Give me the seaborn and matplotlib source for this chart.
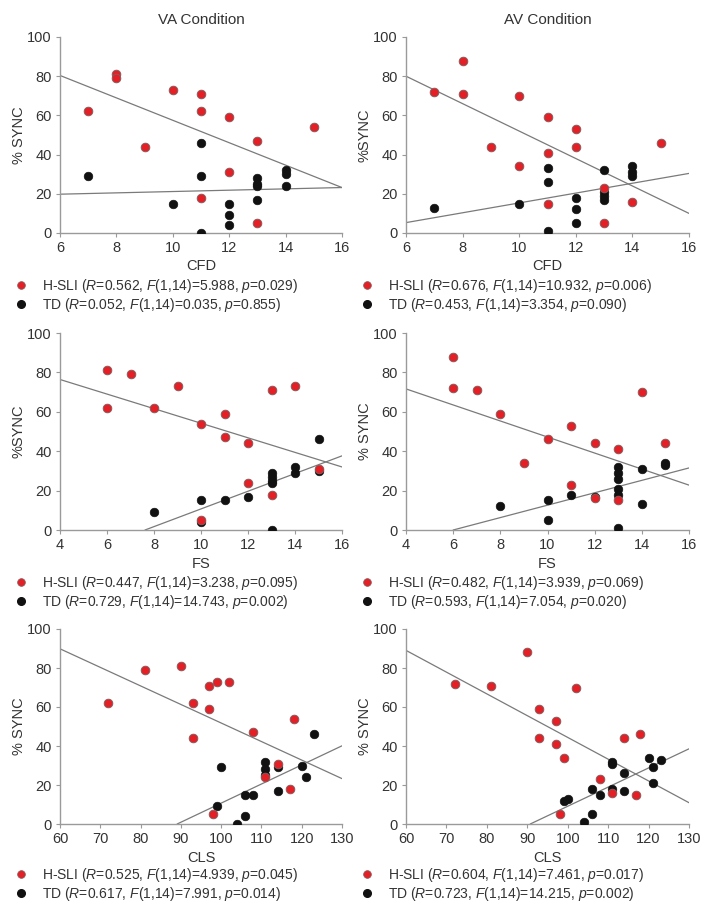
import matplotlib
matplotlib.use("Agg")
import matplotlib.pyplot as plt
import seaborn as sns
import pandas as pd
from matplotlib.lines import Line2D

sns.set_theme(style="white")
plt.rcParams['font.family'] = ['Liberation Sans', 'DejaVu Sans']
plt.rcParams['mathtext.fontset'] = 'custom'
plt.rcParams['mathtext.rm'] = 'Liberation Sans'
plt.rcParams['mathtext.it'] = 'Liberation Sans:italic'

# ---------------- data ----------------
# Panel 1: VA condition, CFD
va_cfd_sli_x = [7, 8, 8, 9, 10, 11, 11, 11, 12, 12, 13, 13, 15]
va_cfd_sli_y = [62, 81, 79, 44, 73, 71, 62, 18, 59, 31, 47, 5, 54]
va_cfd_td_x = [7, 10, 11, 11, 11, 12, 12, 12, 13, 13, 13, 13, 14, 14, 14]
va_cfd_td_y = [29, 15, 46, 29, 0, 15, 9, 4, 28, 25, 24, 17, 32, 30, 24]
# Panel 2: AV condition, CFD
av_cfd_sli_x = [7, 8, 8, 9, 10, 10, 11, 11, 11, 12, 12, 13, 13, 14, 15]
av_cfd_sli_y = [72, 88, 71, 44, 70, 34, 59, 41, 15, 53, 44, 23, 5, 16, 46]
av_cfd_td_x = [7, 10, 11, 11, 11, 12, 12, 12, 13, 13, 13, 13, 14, 14, 14]
av_cfd_td_y = [13, 15, 33, 26, 1, 18, 12, 5, 32, 21, 19, 17, 34, 31, 29]
# Panel 3: VA condition, FS
va_fs_sli_x = [6, 6, 7, 8, 9, 10, 10, 11, 11, 12, 12, 13, 13, 14, 15]
va_fs_sli_y = [81, 62, 79, 62, 73, 54, 5, 59, 47, 44, 24, 71, 18, 73, 31]
va_fs_td_x = [8, 10, 10, 11, 12, 13, 13, 13, 13, 13, 14, 14, 15, 15]
va_fs_td_y = [9, 15, 4, 15, 17, 29, 27, 25, 24, 0, 32, 29, 46, 30]
# Panel 4: AV condition, FS
av_fs_sli_x = [6, 6, 7, 8, 9, 10, 11, 11, 12, 12, 13, 13, 14, 15]
av_fs_sli_y = [88, 72, 71, 59, 34, 46, 53, 23, 44, 16, 41, 15, 70, 44]
av_fs_td_x = [8, 10, 10, 11, 12, 13, 13, 13, 13, 13, 13, 14, 14, 15, 15]
av_fs_td_y = [12, 15, 5, 18, 17, 32, 29, 26, 21, 18, 1, 31, 13, 34, 33]
# Panel 5: VA condition, CLS
va_cls_sli_x = [72, 81, 90, 93, 93, 97, 97, 99, 102, 98, 108, 111, 114, 117, 118]
va_cls_sli_y = [62, 79, 81, 62, 44, 71, 59, 73, 73, 5, 47, 24, 31, 18, 54]
va_cls_td_x = [99, 100, 104, 106, 106, 108, 111, 111, 111, 114, 114, 120, 121, 123]
va_cls_td_y = [9, 29, 0, 4, 15, 15, 32, 28, 25, 29, 17, 30, 24, 46]
# Panel 6: AV condition, CLS
av_cls_sli_x = [72, 81, 90, 93, 93, 97, 97, 99, 98, 102, 108, 111, 114, 117, 118]
av_cls_sli_y = [72, 71, 88, 59, 44, 53, 41, 34, 5, 70, 23, 16, 44, 15, 46]
av_cls_td_x = [99, 100, 104, 106, 106, 108, 111, 111, 111, 114, 114, 120, 121, 121, 123]
av_cls_td_y = [12, 13, 1, 18, 5, 15, 32, 31, 18, 26, 17, 34, 29, 21, 33]

# regression line coefficients (intercept, slope)
sli_intercepts = [114.7, 122.0, 91.2, 87.9, 146.9, 156.0]
sli_slopes = [-5.72, -7.0, -3.7, -4.07, -0.951, -1.116]
td_intercepts = [17.76, -9.76, -34.2, -18.9, -87.3, -89.1]
td_slopes = [0.34, 2.51, 4.49, 3.15, 0.980, 0.982]

x_labels = ["CFD", "CFD", "FS", "FS", "CLS", "CLS"]
y_labels = ["% SYNC", "%SYNC", "%SYNC", "% SYNC", "% SYNC", "% SYNC"]
titles = ["VA Condition", "AV Condition", "", "", "", ""]
x_ranges = [(6, 16, 2), (6, 16, 2), (4, 16, 2), (4, 16, 2), (60, 130, 10), (60, 130, 10)]
sli_labels = [
    "H-SLI ($R$=0.562, $F$(1,14)=5.988, $p$=0.029)",
    "H-SLI ($R$=0.676, $F$(1,14)=10.932, $p$=0.006)",
    "H-SLI ($R$=0.447, $F$(1,14)=3.238, $p$=0.095)",
    "H-SLI ($R$=0.482, $F$(1,14)=3.939, $p$=0.069)",
    "H-SLI ($R$=0.525, $F$(1,14)=4.939, $p$=0.045)",
    "H-SLI ($R$=0.604, $F$(1,14)=7.461, $p$=0.017)",
]
td_labels = [
    "TD ($R$=0.052, $F$(1,14)=0.035, $p$=0.855)",
    "TD ($R$=0.453, $F$(1,14)=3.354, $p$=0.090)",
    "TD ($R$=0.729, $F$(1,14)=14.743, $p$=0.002)",
    "TD ($R$=0.593, $F$(1,14)=7.054, $p$=0.020)",
    "TD ($R$=0.617, $F$(1,14)=7.991, $p$=0.014)",
    "TD ($R$=0.723, $F$(1,14)=14.215, $p$=0.002)",
]

panels = [
    (va_cfd_sli_x, va_cfd_sli_y, va_cfd_td_x, va_cfd_td_y),
    (av_cfd_sli_x, av_cfd_sli_y, av_cfd_td_x, av_cfd_td_y),
    (va_fs_sli_x, va_fs_sli_y, va_fs_td_x, va_fs_td_y),
    (av_fs_sli_x, av_fs_sli_y, av_fs_td_x, av_fs_td_y),
    (va_cls_sli_x, va_cls_sli_y, va_cls_td_x, va_cls_td_y),
    (av_cls_sli_x, av_cls_sli_y, av_cls_td_x, av_cls_td_y),
]

# ---------------- layout (pixels) ----------------
W, H = 714, 913
fig = plt.figure(figsize=(W / 100, H / 100), dpi=100)
col_lr = [(60, 342), (406, 689)]
row_tb = [(37, 233), (333, 530), (629, 824)]
legend_y = [277, 574, 866]
legend_x = [13, 359]

RED = "#e41f26"
GRAY = "#9a9a9a"
TXT = "#333333"
FS = 9.5

for i, (sx, sy, tx, ty) in enumerate(panels):
    r, c = divmod(i, 2)
    l, rr = col_lr[c]
    t, b = row_tb[r]
    ax = fig.add_axes([l / W, 1 - b / H, (rr - l) / W, (b - t) / H])
    x0, x1, step = x_ranges[i]

    df = pd.DataFrame({
        "x": list(sx) + list(tx),
        "y": list(sy) + list(ty),
        "group": ["H-SLI"] * len(sx) + ["TD"] * len(tx),
    })
    ax.axline((0, td_intercepts[i]), slope=td_slopes[i], color="#7a7a7a", lw=0.9, zorder=1)
    ax.axline((0, sli_intercepts[i]), slope=sli_slopes[i], color="#7a7a7a", lw=0.9, zorder=1)
    sns.scatterplot(data=df[df.group == "TD"], x="x", y="y", color="#111111",
                    edgecolor="#111111", linewidth=0.5, s=38, ax=ax, zorder=3, legend=False)
    sns.scatterplot(data=df[df.group == "H-SLI"], x="x", y="y", color=RED,
                    edgecolor="#8a5a5a", linewidth=0.7, s=38, ax=ax, zorder=4, legend=False)

    ax.set_xlim(x0, x1)
    ax.set_ylim(0, 100)
    ax.set_xticks(list(range(x0, x1 + 1, step)))
    ax.set_yticks([0, 20, 40, 60, 80, 100])
    for s in ["top", "right"]:
        ax.spines[s].set_visible(False)
    for s in ["left", "bottom"]:
        ax.spines[s].set_color(GRAY)
        ax.spines[s].set_linewidth(1.0)
    ax.tick_params(axis="both", direction="out", length=3, width=0.8, color=GRAY,
                   labelsize=FS + 1, labelcolor=TXT, pad=3, bottom=True, left=True)
    ax.set_xlabel(x_labels[i], fontsize=FS + 1, color=TXT, labelpad=3)
    ax.set_ylabel(y_labels[i], fontsize=FS + 1, color=TXT, labelpad=1)
    if titles[i]:
        ax.set_title(titles[i], fontsize=FS + 1.5, color=TXT, pad=9)

    handles = [
        Line2D([], [], marker="o", linestyle="none", markersize=5.5,
               markerfacecolor=RED, markeredgecolor="#8a5a5a", markeredgewidth=0.6),
        Line2D([], [], marker="o", linestyle="none", markersize=5.5,
               markerfacecolor="#111111", markeredgecolor="#111111"),
    ]
    ax.legend(handles, [sli_labels[i], td_labels[i]], loc="upper left",
              bbox_to_anchor=(legend_x[c] / W, 1 - legend_y[r] / H),
              bbox_transform=fig.transFigure, frameon=False, fontsize=FS + 0.5,
              handletextpad=0.9, labelspacing=0.05, borderaxespad=0, borderpad=0,
              handlelength=1.2, labelcolor=TXT)

fig.savefig("out.png", dpi=100)
